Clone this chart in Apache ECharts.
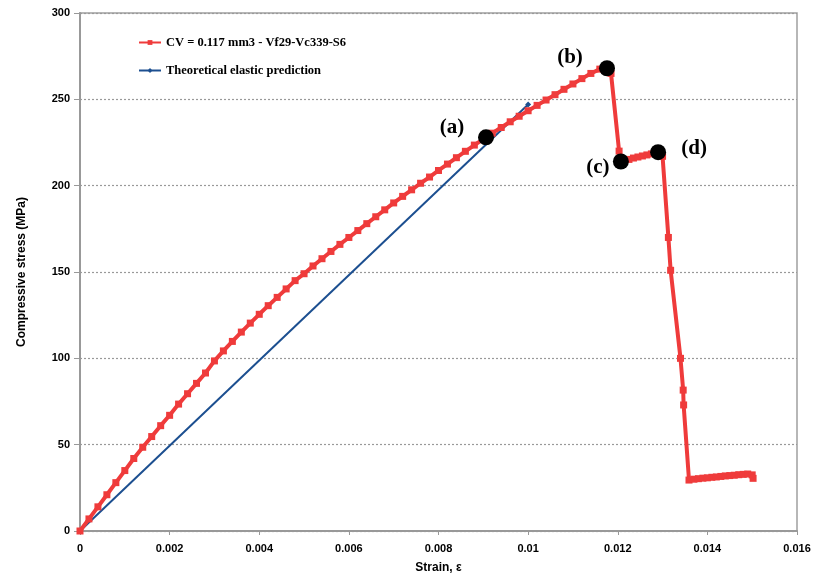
<!DOCTYPE html>
<html>
<head>
<meta charset="utf-8">
<script src="https://cdn.jsdelivr.net/npm/echarts@6/dist/echarts.min.js"></script>
<style>html,body{margin:0;padding:0;background:#fff}#c{width:814px;height:579px}</style>
</head>
<body>
<div id="c"></div>
<script>
// Measured series (strain, stress MPa)
const redStrain = [0,0.0002,0.0004,0.0006,0.0008,0.0010,0.0012,0.0014,0.0016,0.0018,0.0020,0.0022,0.0024,0.0026,0.0028,0.0030,0.0032,0.0034,0.0036,0.0038,0.0040,0.0042,0.0044,0.0046,0.0048,0.0050,0.0052,0.0054,0.0056,0.0058,0.0060,0.0062,0.0064,0.0066,0.0068,0.0070,0.0072,0.0074,0.0076,0.0078,0.0080,0.0082,0.0084,0.0086,0.0088,0.0090,0.0092,0.0094,0.0096,0.0098,0.0100,0.0102,0.0104,0.0106,0.0108,0.0110,0.0112,0.0114,0.0116,0.01176,0.01185,0.01203,0.01207,0.01215,0.01225,0.01235,0.01245,0.01255,0.01265,0.01275,0.01285,0.0129,0.0130,0.01313,0.01318,0.0134,0.01346,0.01347,0.01359,0.0137,0.0138,0.0139,0.0140,0.0141,0.0142,0.0143,0.0144,0.0145,0.0146,0.0147,0.0148,0.0149,0.0150,0.01502];
const redStress = [0,7,14,21,28,35,42,48.5,54.7,61,67,73.5,79.5,85.5,91.5,98.5,104.3,109.8,115.2,120.4,125.5,130.5,135.3,140.2,145,149,153.5,157.7,161.9,166,170,174,178,182,186,190,193.8,197.6,201.4,205,208.8,212.5,216.2,219.9,223.5,227,230.4,233.7,237,240.2,243.4,246.5,249.6,252.7,255.8,258.9,262,265,267.5,268.5,265,220,214,214.5,215.2,216,216.6,217.2,217.8,218.4,219,219.4,217,170,151,100,81.6,73,29.5,30,30.3,30.6,30.8,31.1,31.3,31.6,31.9,32.1,32.3,32.6,32.8,33,32.5,30.5];
const blueStrain = [0, 0.0100];
const blueStress = [0, 247];
const pointLabels = ['(a)','(b)','(c)','(d)'];
const pointStrain = [0.00906, 0.01176, 0.01207, 0.0129];
const pointStress = [228, 268, 214, 219.4];
const xTicks = [0,0.002,0.004,0.006,0.008,0.01,0.012,0.014,0.016];
const seriesNames = ['CV = 0.117 mm3 - Vf29-Vc339-S6','Theoretical elastic prediction'];

const chart = echarts.init(document.getElementById('c'));
const labelPos = [[-34,-10],[-37,-11],[-23,6],[36,-4]];
chart.setOption({
  animation: false,
  grid: {left: 80, right: 17, top: 13, bottom: 48, show: true, borderColor: '#a0a0a0', borderWidth: 1.5},
  legend: {
    data: seriesNames, orient: 'vertical', left: 133, top: 31, itemGap: 15,
    itemWidth: 22, itemHeight: 6,
    textStyle: {fontFamily: 'Liberation Serif', fontWeight: 'bold', fontSize: 12.5, color: '#000'}
  },
  xAxis: {
    type: 'value', min: 0, max: 0.016, interval: 0.002,
    name: 'Strain, ε', nameLocation: 'middle', nameGap: 31,
    nameTextStyle: {fontFamily: 'Liberation Sans', fontWeight: 'bold', fontSize: 12, color: '#000'},
    axisLine: {lineStyle: {color: '#999', width: 2}},
    axisTick: {show: true, length: 4, inside: false, lineStyle: {color: '#999'}},
    axisLabel: {fontFamily: 'Liberation Sans', fontWeight: 'bold', fontSize: 11, color: '#000', margin: 12,
      formatter: v => String(parseFloat(v.toFixed(3)))},
    splitLine: {show: false}
  },
  yAxis: {
    type: 'value', min: 0, max: 300, interval: 50,
    name: 'Compressive stress (MPa)', nameLocation: 'middle', nameGap: 52,
    nameTextStyle: {fontFamily: 'Liberation Sans', fontWeight: 'bold', fontSize: 12, color: '#000'},
    axisLine: {show: true, lineStyle: {color: '#999', width: 2}},
    axisTick: {show: true, length: 6, lineStyle: {color: '#999'}},
    axisLabel: {fontFamily: 'Liberation Sans', fontWeight: 'bold', fontSize: 11, color: '#000', margin: 10},
    splitLine: {show: true, lineStyle: {color: '#999', type: [2, 2], width: 1.2}}
  },
  series: [
    {
      name: seriesNames[0], type: 'line',
      data: redStrain.map((x, i) => [x, redStress[i]]),
      symbol: 'rect', symbolSize: 7, showSymbol: true,
      lineStyle: {color: '#ef3b3b', width: 4},
      itemStyle: {color: '#ef3b3b', opacity: 1}, z: 3
    },
    {
      name: seriesNames[1], type: 'line',
      data: blueStrain.map((x, i) => [x, blueStress[i]]),
      symbol: 'diamond', symbolSize: 6, showSymbol: true,
      lineStyle: {color: '#1c4f90', width: 2},
      itemStyle: {color: '#1c4f90'}, z: 2
    },
    {
      type: 'scatter', z: 5,
      data: pointStrain.map((x, i) => ({value: [x, pointStress[i]], label: {offset: labelPos[i]}})),
      symbol: 'circle', symbolSize: 16, itemStyle: {color: '#000', opacity: 1},
      label: {show: true, position: 'inside', formatter: p => pointLabels[p.dataIndex],
        fontFamily: 'Liberation Serif', fontWeight: 'bold', fontSize: 21, color: '#000'}
    }
  ]
});
</script>
</body>
</html>
